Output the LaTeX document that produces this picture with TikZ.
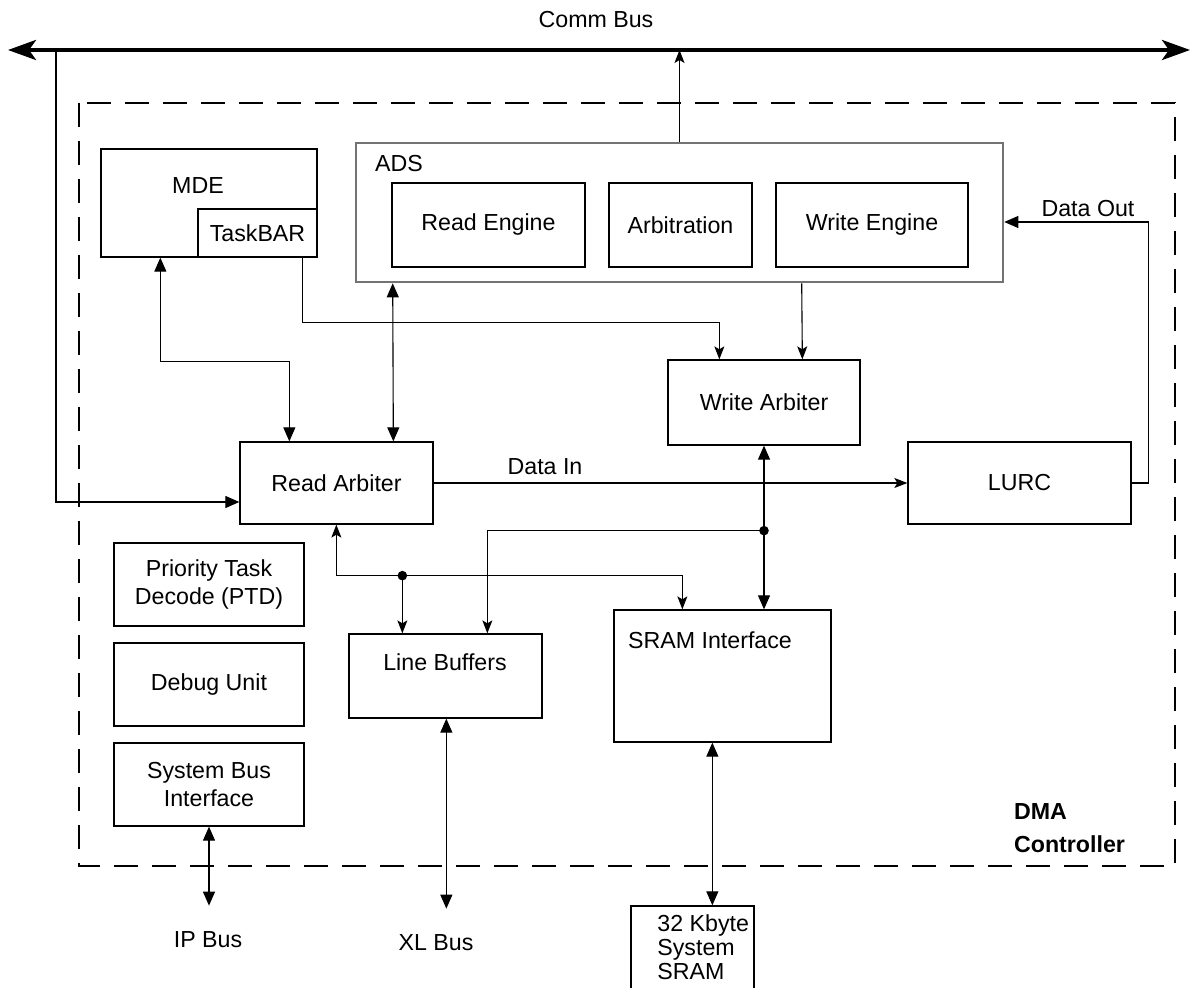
\documentclass[tikz,border=0pt]{standalone}
\usepackage{fontspec}
\setmainfont{Liberation Sans}
\usetikzlibrary{arrows.meta, calc, positioning}

\tikzset{
  blk/.style={draw, line width=0.65pt, inner sep=0pt, align=center},
  conn/.style={line width=0.55pt},
  tri/.tip={Triangle[length=7pt, width=6pt]},
  stl/.tip={Stealth[length=6.5pt, width=5pt, inset=1.5pt]},
  dot/.style={fill, radius=2.4pt}
}

\begin{document}
\begin{tikzpicture}[x=0.5pt, y=-0.5pt, font=\fontsize{11.6}{14}\selectfont]
      \clip (0,0) rectangle (1193,988);

      % Comm bus
      \coordinate (busL) at (8,50);
      \coordinate (busR) at (1190,50);
      \coordinate (tapL) at (56,50);
      \draw[line width=2pt, {Stealth[length=14pt, width=10pt, inset=3.5pt]}-{Stealth[length=14pt, width=10pt, inset=3.5pt]}] (busL) -- (busR);
      \node (commTxt) at (596,20) {Comm Bus};

      % DMA controller frame
      \draw[line width=1pt, dash pattern=on 12pt off 7pt] (79,103) rectangle (1175,866);
      \node[font=\fontsize{11.6}{16.5}\selectfont\bfseries, align=left, anchor=west] (dmaTxt) at (1007,828) {DMA\\Controller};

      % Blocks
      \node[blk, minimum width=108pt, minimum height=54pt] (mde) at (209,203) {};
      \node (mdeTxt) at (198,186) {MDE};
      \node[blk, minimum width=59.5pt, minimum height=24pt] (taskbar) at (257.5,233) {TaskBAR};

      \node[blk, draw=black!55, line width=1.3pt, minimum width=323.5pt, minimum height=69.5pt] (ads) at (679.5,212.5) {};
      \node[anchor=west] (adsTxt) at (368,164) {ADS};
      \node[blk, minimum width=96.5pt, minimum height=42pt] (rdeng) at (488.5,225) {Read Engine};
      \node[blk, minimum width=71.5pt, minimum height=42pt] (arbit) at (680.5,225) {Arbitration};
      \node[blk, minimum width=96pt, minimum height=42pt] (wreng) at (872,225) {Write Engine};

      \node[blk, minimum width=96pt, minimum height=42.5pt] (wrarb) at (764,402.5) {Write Arbiter};
      \node[blk, minimum width=96.5pt, minimum height=41pt] (rdarb) at (336.5,483) {Read Arbiter};
      \node[blk, minimum width=111.5pt, minimum height=41pt] (lurc) at (1019.5,483) {LURC};

      \node[blk, minimum width=95pt, minimum height=41.5pt] (ptd) at (209,584.5) {Priority Task\\Decode (PTD)};
      \node[blk, minimum width=95pt, minimum height=41.5pt] (dbg) at (209,684.5) {Debug Unit};
      \node[blk, minimum width=95pt, minimum height=41.5pt] (sbi) at (209,784.5) {System Bus\\Interface};

      \node[blk, minimum width=96.5pt, minimum height=42pt] (lbuf) at (445.5,676) {};
      \node (lbufTxt) at (445,662) {Line Buffers};
      \node[blk, minimum width=108.5pt, minimum height=66pt] (sramif) at (722.5,676) {};
      \node (sramifTxt) at (710,640) {SRAM Interface};

      \node[blk, minimum width=61.5pt, minimum height=47pt] (sram) at (692.5,953) {};
      \node[anchor=north west, align=left, inner sep=0pt, font=\fontsize{11.6}{12}\selectfont] (sramTxt) at (657,914) {32 Kbyte\\System\\SRAM};

      % Bus labels
      \node (ipTxt) at (208,940) {IP Bus};
      \node (xlTxt) at (436,943) {XL Bus};

      % Connectors
      \draw[conn, -tri] (tapL) |- ($(rdarb.west)+(0,19)$);
      \draw[conn, -stl] (ads.north) -- (ads.north |- busL);
      \draw[conn, -tri] (lurc.east) -- ++(17,0) |- ($(ads.east)+(0,9.5)$);
      \node (dataOut) at (1088,209) {Data Out};
      \draw[conn, -stl] (rdarb.east) -- (lurc.west);
      \node (dataIn) at (545,467) {Data In};

      \draw[conn, tri-tri] ($(mde.south west)+(60,0)$) -- ++(0,104) -| ($(rdarb.north west)+(50,0)$);
      \draw[conn, tri-tri] ($(ads.south west)+(38,0)$) -- ($(rdarb.north west)+(154,0)$);
      \draw[conn, -stl] ($(taskbar.south west)+(105,0)$) -- ++(0,65) -| ($(wrarb.north west)+(52,0)$);
      \draw[conn, -stl] ($(ads.south west)+(447,0)$) -- ($(wrarb.north west)+(135,0)$);

      % Write arbiter / SRAM interface link with branch
      \draw[conn, tri-tri] (wrarb.south) -- (wrarb.south |- sramif.north);
      \coordinate (jnW) at ($(wrarb.south)+(0,85)$);
      \fill (jnW) circle[dot];
      \draw[conn, -stl] (jnW) -| ($(lbuf.north west)+(139,0)$);

      % Read arbiter branch
      \draw[conn, stl-stl] ($(rdarb.south west)+(97,0)$) -- ++(0,51) -| ($(sramif.north west)+(69,0)$);
      \coordinate (jnR) at ($(rdarb.south west)+(163,51)$);
      \fill (jnR) circle[dot];
      \draw[conn, -stl] (jnR) -- (jnR |- lbuf.north);

      % External buses
      \draw[conn, tri-tri] (sbi.south) -- ++(0,79);
      \draw[conn, tri-tri] ($(lbuf.south west)+(98,0)$) -- ++(0,190);
      \coordinate (sramLink) at ($(sramif.south west)+(99,0)$);
      \draw[conn, tri-tri] (sramLink) -- (sramLink |- sram.north);
\end{tikzpicture}
\end{document}
